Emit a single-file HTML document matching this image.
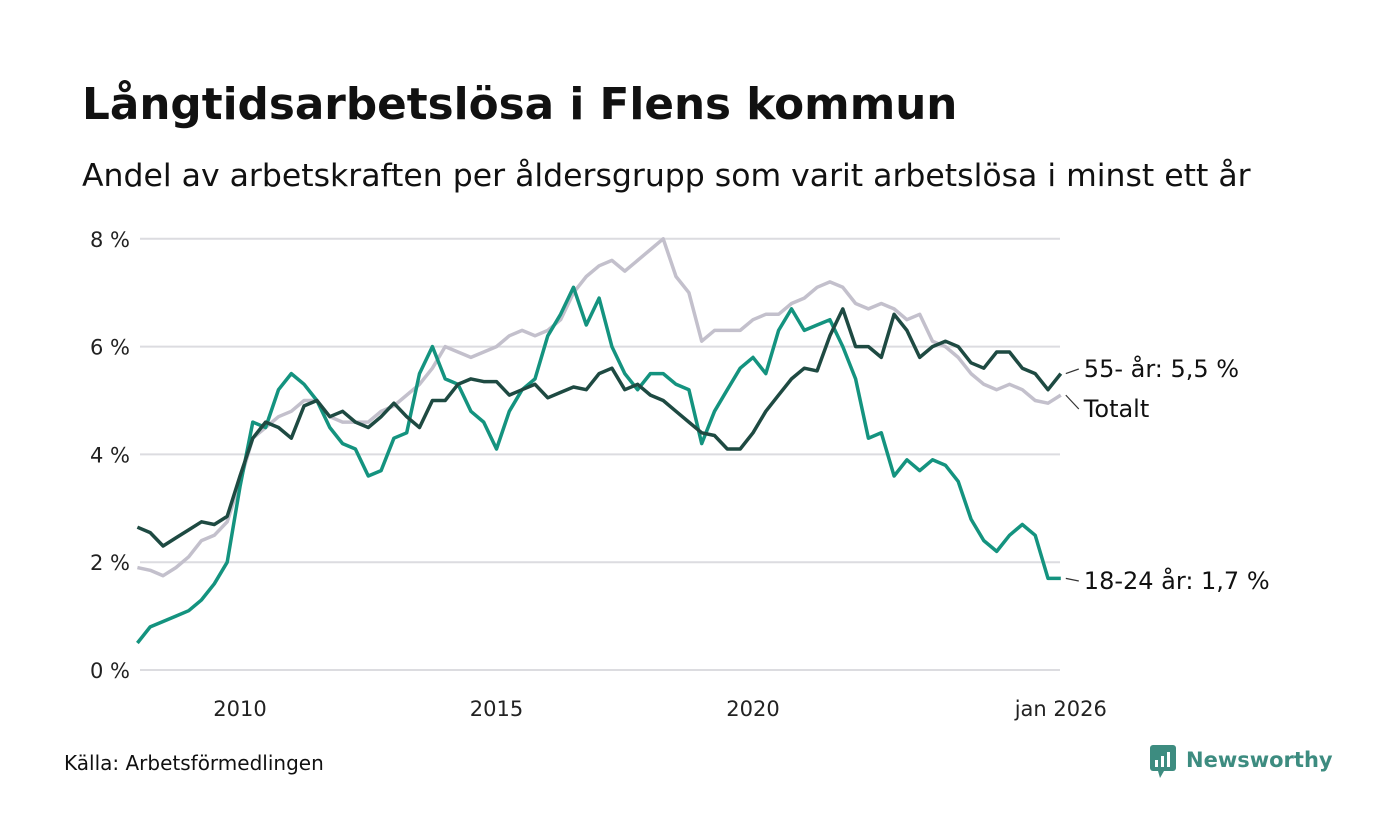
<!DOCTYPE html>
<html><head><meta charset="utf-8"><style>
body{margin:0;background:#fff;font-family:"Liberation Sans","DejaVu Sans",sans-serif;}
svg{display:block}
</style></head><body>
<svg id="chart" width="1400" height="840" xmlns="http://www.w3.org/2000/svg">
<text x="82" y="119" font-size="43.7" font-weight="bold" fill="#111" font-family="DejaVu Sans, sans-serif">Långtidsarbetslösa i Flens kommun</text>
<text x="82" y="186" font-size="31.5" fill="#111" font-family="DejaVu Sans, sans-serif">Andel av arbetskraften per åldersgrupp som varit arbetslösa i minst ett år</text>
<g id="grid"></g><g id="lines"></g><g id="labels"></g>
<text x="64" y="770" font-size="20" fill="#111" font-family="DejaVu Sans, sans-serif">Källa: Arbetsförmedlingen</text>
<g>
<rect x="1150" y="745" width="26" height="26" rx="3" fill="#3d8c80"/>
<polygon points="1158,771 1164,771 1160,778" fill="#3d8c80"/>
<rect x="1155" y="760" width="3" height="7" fill="#fff"/><rect x="1161" y="756" width="3" height="11" fill="#fff"/><rect x="1167" y="752" width="3" height="15" fill="#fff"/>
<text x="1186" y="767" font-size="21" font-weight="bold" fill="#3d8c80" font-family="DejaVu Sans, sans-serif">Newsworthy</text>
</g>
</svg>
<script>
const startYear=2008.0, step=0.25;
const youth=[0.5,0.8,0.9,1.0,1.1,1.3,1.6,2.0,3.4,4.6,4.5,5.2,5.5,5.3,5.0,4.5,4.2,4.1,3.6,3.7,4.3,4.4,5.5,6.0,5.4,5.3,4.8,4.6,4.1,4.8,5.2,5.4,6.2,6.6,7.1,6.4,6.9,6.0,5.5,5.2,5.5,5.5,5.3,5.2,4.2,4.8,5.2,5.6,5.8,5.5,6.3,6.7,6.3,6.4,6.5,6.0,5.4,4.3,4.4,3.6,3.9,3.7,3.9,3.8,3.5,2.8,2.4,2.2,2.5,2.7,2.5,1.7,1.7];
const senior=[2.65,2.55,2.3,2.45,2.6,2.75,2.7,2.85,3.6,4.3,4.6,4.5,4.3,4.9,5.0,4.7,4.8,4.6,4.5,4.7,4.95,4.7,4.5,5.0,5.0,5.3,5.4,5.35,5.35,5.1,5.2,5.3,5.05,5.15,5.25,5.2,5.5,5.6,5.2,5.3,5.1,5.0,4.8,4.6,4.4,4.35,4.1,4.1,4.4,4.8,5.1,5.4,5.6,5.55,6.2,6.7,6.0,6.0,5.8,6.6,6.3,5.8,6.0,6.1,6.0,5.7,5.6,5.9,5.9,5.6,5.5,5.2,5.5];
const total=[1.9,1.85,1.75,1.9,2.1,2.4,2.5,2.75,3.5,4.3,4.5,4.7,4.8,5.0,5.0,4.7,4.6,4.6,4.6,4.8,4.9,5.1,5.3,5.6,6.0,5.9,5.8,5.9,6.0,6.2,6.3,6.2,6.3,6.5,7.0,7.3,7.5,7.6,7.4,7.6,7.8,8.0,7.3,7.0,6.1,6.3,6.3,6.3,6.5,6.6,6.6,6.8,6.9,7.1,7.2,7.1,6.8,6.7,6.8,6.7,6.5,6.6,6.1,6.0,5.8,5.5,5.3,5.2,5.3,5.2,5.0,4.95,5.1];
const yTicks=[0,2,4,6,8];
const yTickLabels=["0 %","2 %","4 %","6 %","8 %"];
const xTicks=[2010,2015,2020,2026];
const xTickLabels=["2010","2015","2020","jan 2026"];
const NS="http://www.w3.org/2000/svg";
const xS=y=>240+(y-2010)*51.3;
const yS=v=>670-v*53.9;
function mk(tag,attrs,parent){const e=document.createElementNS(NS,tag);for(const k in attrs)e.setAttribute(k,attrs[k]);parent.appendChild(e);return e;}
const grid=document.getElementById('grid');
yTicks.forEach((t,i)=>{
 const l=mk('line',{x1:140,x2:1060,y1:yS(t),y2:yS(t),stroke:'#dcdce0','stroke-width':2},grid);
 
 
 const tx=mk('text',{x:130,y:yS(t)+8,'text-anchor':'end','font-size':21,fill:'#222','font-family':'DejaVu Sans, sans-serif'},grid);
 tx.textContent=yTickLabels[i];
 
 
});
xTicks.forEach((t,i)=>{
 const tx=mk('text',{x:xS(t),y:716,'text-anchor':'middle','font-size':21,fill:'#222','font-family':'DejaVu Sans, sans-serif'},grid);
 tx.textContent=xTickLabels[i];
 
 
});
const lines=document.getElementById('lines');
function draw(arr,color,name){
 const d=arr.map((v,i)=>(i?'L':'M')+xS(startYear+i*step).toFixed(1)+','+yS(v).toFixed(1)).join(' ');
 const p=mk('path',{d:d,fill:'none',stroke:color,'stroke-width':3.5,'stroke-linejoin':'round'},lines);
 
 
}
draw(total,'#c3c0cc','line-total');
draw(youth,'#14937f','line-18-24');
draw(senior,'#1e4a42','line-55-plus');
const labels=document.getElementById('labels');
function lab(arr,txt,ty,name){
 const last=arr[arr.length-1];const lx=xS(startYear+(arr.length-1)*step);
 mk('line',{x1:lx+5,y1:yS(last),x2:lx+18,y2:ty-8,stroke:'#333','stroke-width':1.2},labels);
 const t=mk('text',{x:lx+23,y:ty,'font-size':24,fill:'#111','font-family':'DejaVu Sans, sans-serif'},labels);
 t.textContent=txt;
 
 
}
lab(senior,'55- år: 5,5 %',377,'label-55-plus');
lab(total,'Totalt',417,'label-total');
lab(youth,'18-24 år: 1,7 %',589,'label-18-24');
</script>
</body></html>
